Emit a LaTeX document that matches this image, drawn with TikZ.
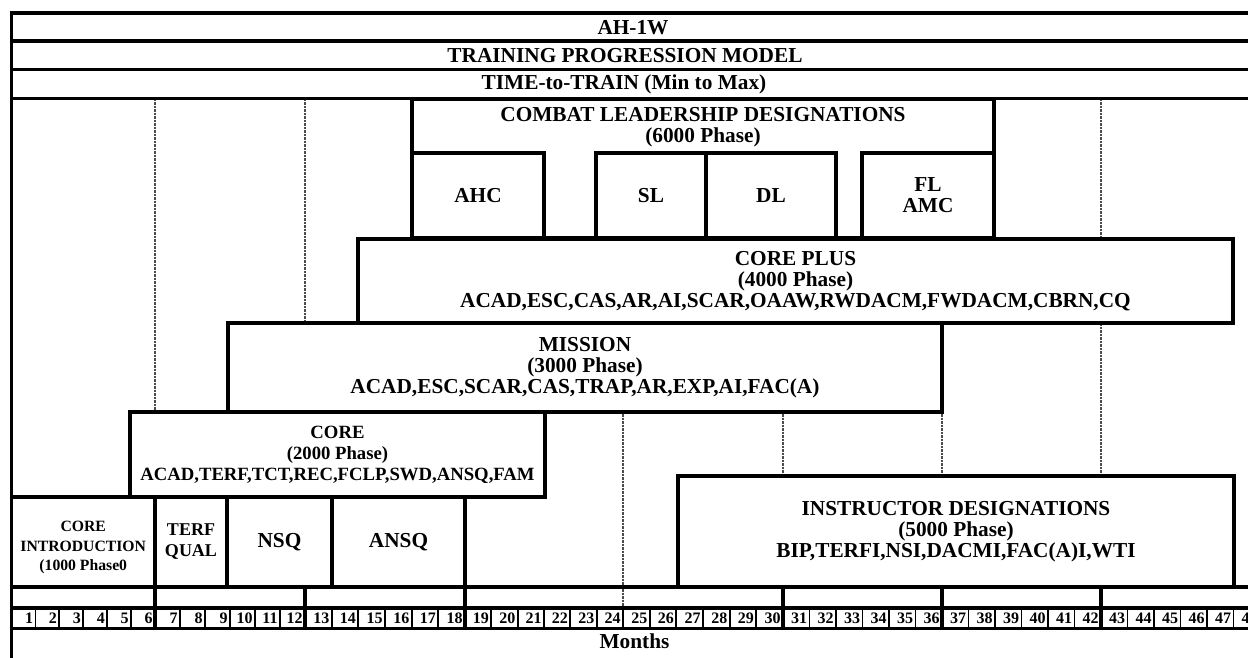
\documentclass[tikz,border=0pt]{standalone}
\usepackage{fontspec}
\setmainfont{Liberation Serif}
\begin{document}
\begin{tikzpicture}[x=1pt,y=-1pt,
  rowline/.style={line width=3.5pt},
  box/.style={draw, line width=3.5pt, fill=white, rectangle, inner sep=0pt, align=center,
    font=\bfseries\fontsize{21.3}{21}\selectfont},
  corebox/.style={box, font=\bfseries\fontsize{18.7}{21}\selectfont},
  terfbox/.style={box, font=\bfseries\fontsize{18}{21}\selectfont},
  gridline/.style={draw=black!70, line width=1.2pt, dash pattern=on 2.5pt off 1pt},
  lbl/.style={align=center, inner sep=0pt, font=\bfseries\fontsize{21.3}{21}\selectfont},
  smalllbl/.style={align=center, inner sep=0pt, font=\bfseries\fontsize{15.7}{19.5}\selectfont},
  num/.style={anchor=base east, inner sep=0pt, font=\bfseries\fontsize{16}{16}\selectfont},
  celldiv/.style={line width=1.8pt},
  majordiv/.style={line width=3.2pt}]
\useasboundingbox (0,0) rectangle (1248,658);
% dashed time grid
\foreach \gx in {155,305,465,623,783,942,1101}
  \draw[gridline] (\gx,99) -- (\gx,608);
% header rows
\draw[rowline] (11.5,13) -- (1262,13);
\draw[rowline] (11.5,41) -- (1262,41);
\draw[rowline] (11.5,69.5) -- (1262,69.5);
\draw[rowline] (11.5,98.5) -- (1262,98.5);
\node[lbl] (title1) at (633,28) {AH-1W};
\node[lbl] (title2) at (625,56) {TRAINING PROGRESSION MODEL};
\node[lbl] (title3) at (624,84.5) {TIME-to-TRAIN (Min to Max)};
% 6000 phase
\node[box, minimum width=582pt, minimum height=139pt] (combat) at (703,168.5) {};
\node[lbl] (combatT) at (703,127) {COMBAT LEADERSHIP DESIGNATIONS\\(6000 Phase)};
\node[box, minimum width=132pt, minimum height=85pt] (ahc) at (478,195.5) {AHC};
\node[box, minimum width=110pt, minimum height=85pt] (sl) at (651,195.5) {SL};
\node[box, minimum width=130pt, minimum height=85pt] (dl) at (771,195.5) {DL};
\node[box, minimum width=132pt, minimum height=85pt] (fl) at (928,195.5) {FL\\AMC};
% 4000 phase
\node[box, minimum width=875pt, minimum height=84pt] (coreplus) at (795.5,281)
  {CORE PLUS\\(4000 Phase)\\ACAD,ESC,CAS,AR,AI,SCAR,OAAW,RWDACM,FWDACM,CBRN,CQ};
% 3000 phase
\node[box, minimum width=714pt, minimum height=89pt] (mission) at (585,367.5)
  {MISSION\\(3000 Phase)\\ACAD,ESC,SCAR,CAS,TRAP,AR,EXP,AI,FAC(A)};
% 2000 phase
\node[corebox, minimum width=415pt, minimum height=85pt] (core) at (337.5,454.5)
  {CORE\\(2000 Phase)\\ACAD,TERF,TCT,REC,FCLP,SWD,ANSQ,FAM};
% 1000 phase row
\node[box, minimum width=143.5pt, minimum height=90pt] (intro) at (83.25,542) {};
\node[smalllbl] (introT) at (83.25,547.5) {CORE\\INTRODUCTION\\(1000 Phase0};
\node[terfbox, minimum width=72pt, minimum height=90pt] (terf) at (191,542) {TERF\\QUAL};
\node[box, minimum width=105pt, minimum height=90pt] (nsq) at (279.5,542) {NSQ};
\node[box, minimum width=133pt, minimum height=90pt] (ansq) at (398.5,542) {ANSQ};
% 5000 phase
\node[box, minimum width=556pt, minimum height=111pt] (instr) at (956,531.5)
  {INSTRUCTOR DESIGNATIONS\\(5000 Phase)\\BIP,TERFI,NSI,DACMI,FAC(A)I,WTI};
% month rows
\draw[rowline] (11.5,587) -- (1262,587);
\draw[rowline] (11.5,608) -- (1262,608);
\draw[rowline] (11.5,628.5) -- (1262,628.5);
\def\B{{11.5,155,305,465,623,783,942,1101,1260}}
\foreach \k in {1,...,48} {
  \pgfmathtruncatemacro\g{int((\k-1)/6)}
  \pgfmathsetmacro\lo{\B[\g]}
  \pgfmathsetmacro\hi{\B[\g+1]}
  \pgfmathsetmacro\bx{\lo+(\k-6*\g)*(\hi-\lo)/6}
  \draw[celldiv] (\bx,608) -- (\bx,628.5);
  \node[num] (m\k) at (\bx-2.2,623.5) {\k};
}
\foreach \gx in {155,305,465,783,942,1101}
  \draw[majordiv] (\gx,587) -- (\gx,628.5);
\node[lbl] (months) at (634.5,641.5) {Months};
% left frame
\draw[rowline] (11.5,11.25) -- (11.5,670);
\end{tikzpicture}
\end{document}
